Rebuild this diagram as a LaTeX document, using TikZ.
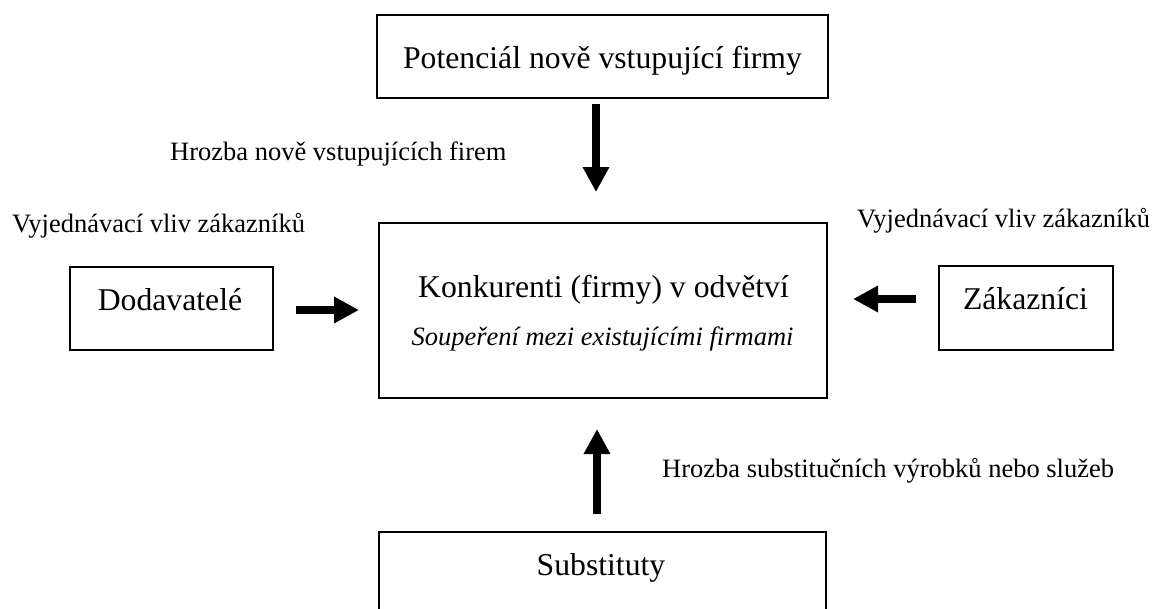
\documentclass[tikz,border=0pt]{standalone}
\usepackage{fontspec}
\setmainfont{Liberation Serif}
\usetikzlibrary{arrows.meta,calc}

\tikzset{
  box/.style={draw=black, line width=1.6pt, rectangle, outer sep=0pt, inner sep=0pt},
  bigtext/.style={inner sep=0pt, anchor=base, font=\fontsize{31.7}{36}\selectfont},
  smalltext/.style={inner sep=0pt, anchor=base west, font=\fontsize{26.5}{30}\selectfont},
  force/.style={line width=8.5pt, -{Triangle[length=25pt,width=25pt]}}
}

\begin{document}
\begin{tikzpicture}[x=1pt, y=-1pt]
\useasboundingbox (0,0) rectangle (1157,608);

% boxes of the five forces
\node[box, minimum width=451pt, minimum height=83pt]  (entry)  at (602.5,56.5) {};
\node[box, minimum width=448pt, minimum height=175pt] (rivals) at (603,310.5) {};
\node[box, minimum width=203pt, minimum height=83pt]  (supp)   at (171.5,308.5) {};
\node[box, minimum width=174pt, minimum height=84pt]  (cust)   at (1026,308) {};
\node[box, minimum width=447pt, minimum height=83pt]  (subst)  at (602.5,573.5) {};

% texts inside the boxes
\node[bigtext] (entryT)  at (602.5,68)  {Potenciál nově vstupující firmy};
\node[bigtext] (rivalsT) at (603.5,297) {Konkurenti (firmy) v odvětví};
\node[bigtext, font=\fontsize{26.5}{30}\selectfont\itshape] (rivalsS) at (602.5,345) {Soupeření mezi existujícími firmami};
\node[bigtext] (suppT)   at (170,310)   {Dodavatelé};
\node[bigtext] (custT)   at (1025.5,309) {Zákazníci};
\node[bigtext] (substT)  at (601,575)   {Substituty};

% labels of the forces
\node[smalltext] (lEntry) at (170,160) {Hrozba nově vstupujících firem};
\node[smalltext] (lSupp)  at (12,232)  {Vyjednávací vliv zákazníků};
\node[smalltext] (lCust)  at (857,227) {Vyjednávací vliv zákazníků};
\node[smalltext] (lSubst) at (662,477) {Hrozba substitučních výrobků nebo služeb};

% arrows towards the rivalry box
\draw[force, shorten <=6pt, shorten >=31pt]
  ([xshift=-6.5pt]entry.south) -- ([xshift=-6.5pt]entry.south |- rivals.north);
\draw[force, shorten <=18.5pt, shorten >=31pt]
  ([xshift=-5.5pt]subst.north) -- ([xshift=-5.5pt]subst.north |- rivals.south);
\draw[force, shorten <=23pt, shorten >=20pt]
  ([yshift=-1.5pt]supp.east) -- ([yshift=-1.5pt]supp.east -| rivals.west);
\draw[force, shorten <=23pt, shorten >=26pt]
  ([yshift=9pt]cust.west) -- ([yshift=9pt]cust.west -| rivals.east);
\end{tikzpicture}
\end{document}
